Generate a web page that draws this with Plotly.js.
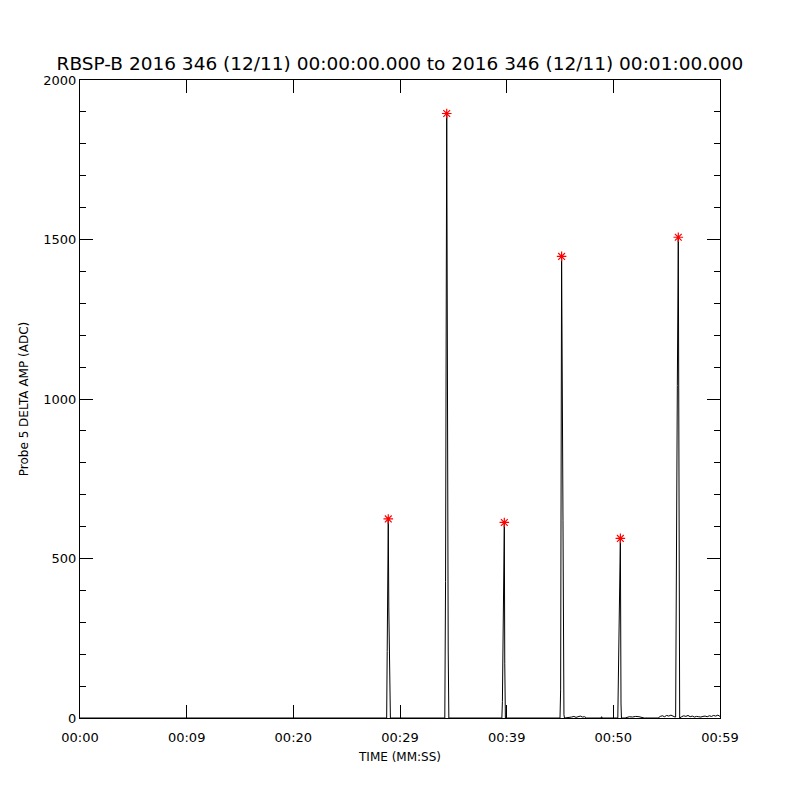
<!DOCTYPE html>
<html>
<head>
<meta charset="utf-8">
<script src="https://cdn.plot.ly/plotly-3.0.1.min.js"></script>
<style>html,body{margin:0;padding:0;background:#fff;}#chart{width:800px;height:800px;}</style>
</head>
<body>
<div id="chart"></div>
<script>
// Time in seconds since 00:00:00 and probe 5 delta amplitude (ADC)
const timeSec = [
  0, 28.75, 28.80, 28.90, 28.95, 29.00, 29.05, 29.10,
  34.20, 34.27, 34.38, 34.42, 34.52, 34.58,
  39.55, 39.60, 39.72, 39.78, 39.82, 39.88,
  45.00, 45.06, 45.15, 45.20, 45.28, 45.37, 45.42,
  46.1, 46.3, 46.5, 46.7, 46.9, 47.1, 47.3, 47.5, 48.85, 48.9, 48.95,
  50.42, 50.47, 50.60, 50.66, 50.72, 50.76,
  51.1, 51.3, 51.5, 51.8, 52.1, 52.4, 52.7, 52.9,
  54.2, 54.4, 54.6, 54.8, 55.0, 55.2, 55.4, 55.6, 55.78,
  55.84, 55.87, 56.00, 56.09, 56.18, 56.22,
  56.4, 56.6, 56.8, 57.0, 57.2, 57.4, 57.6, 57.8, 58.0, 58.2, 58.4, 58.6, 58.8, 59.0, 59.2, 59.4, 59.6, 59.8, 60
];
const amp = [
  0, 0, 208, 624, 345, 208, 31, 0,
  0, 427, 1895, 1161, 210, 0,
  0, 51, 360, 613, 172, 0,
  0, 88, 1447, 820, 618, 10, 0,
  3, 5, 2, 4, 6, 3, 4, 0, 0, 4, 0,
  0, 153, 435, 563, 44, 0,
  0, 3, 4, 3, 5, 4, 3, 0,
  0, 5, 7, 4, 8, 6, 9, 5, 3,
  3, 288, 1042, 1507, 208, 0,
  4, 7, 5, 8, 4, 6, 3, 5, 4, 3, 5, 6, 4, 7, 5, 8, 6, 9, 5
];
// Detected peaks (red asterisks)
const peakTime = [28.90, 34.38, 39.78, 45.15, 50.66, 56.09];
const peakAmp  = [624, 1895, 613, 1447, 563, 1507];
// Axis ticks
const xTickVals = [0, 10, 20, 30, 40, 50, 60];
const xTickText = ['00:00', '00:09', '00:20', '00:29', '00:39', '00:50', '00:59'];
const yTickVals = [0, 500, 1000, 1500, 2000];

const font = 'DejaVu Sans, sans-serif';
const traces = [
  {x: timeSec, y: amp, type: 'scatter', mode: 'lines',
   line: {color: '#000000', width: 1}, hoverinfo: 'skip'},
  {x: peakTime, y: peakAmp, type: 'scatter', mode: 'markers',
   marker: {symbol: 'asterisk-open', size: 8, color: '#ff0000', line: {color: '#ff0000', width: 1.2}}}
];
const layout = {
  width: 800, height: 800,
  paper_bgcolor: '#ffffff', plot_bgcolor: '#ffffff',
  showlegend: false,
  margin: {l: 80, r: 80, t: 80, b: 82, pad: 0},
  font: {family: font, color: '#000000', size: 13},
  title: {text: 'RBSP-B 2016 346 (12/11) 00:00:00.000 to 2016 346 (12/11) 00:01:00.000',
          font: {family: font, size: 18.5, color: '#000000'},
          x: 0.5, xanchor: 'center', xref: 'paper', yref: 'container', y: 1 - 64/800, yanchor: 'middle'},
  xaxis: {
    range: [0, 60], autorange: false,
    tickmode: 'array', tickvals: xTickVals, ticktext: xTickText,
    ticks: 'inside', ticklen: 13, tickwidth: 1, tickcolor: '#000000',
    ticklabelstandoff: 7,
    showline: true, linecolor: '#000000', linewidth: 1, mirror: 'ticks',
    showgrid: false, zeroline: false,
    tickfont: {family: font, size: 13, color: '#000000'},
    title: {text: 'TIME (MM:SS)', font: {family: font, size: 12, color: '#000000'}, standoff: 9}
  },
  yaxis: {
    range: [0, 2000], autorange: false,
    tickmode: 'array', tickvals: yTickVals,
    ticks: 'inside', ticklen: 13, tickwidth: 1, tickcolor: '#000000',
    minor: {ticks: 'inside', ticklen: 6, tickwidth: 1, tickcolor: '#000000', dtick: 100, showgrid: false},
    showline: true, linecolor: '#000000', linewidth: 1, mirror: 'ticks',
    showgrid: false, zeroline: false,
    tickfont: {family: font, size: 13, color: '#000000'},
    title: {text: 'Probe 5 DELTA AMP (ADC)', font: {family: font, size: 12, color: '#000000'}, standoff: 12}
  }
};
Plotly.newPlot('chart', traces, layout, {displayModeBar: false, staticPlot: true});
</script>
</body>
</html>
